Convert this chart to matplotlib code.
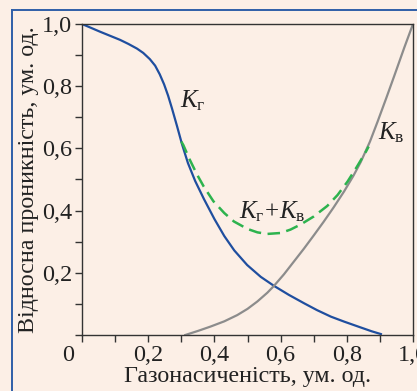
import matplotlib
matplotlib.use("Agg")
import matplotlib.pyplot as plt
from matplotlib.lines import Line2D
from matplotlib.transforms import ScaledTranslation
from matplotlib.ticker import MultipleLocator

plt.rcParams['font.family'] = ['Liberation Serif', 'DejaVu Serif']
plt.rcParams['mathtext.fontset'] = 'custom'
plt.rcParams['mathtext.rm'] = 'Liberation Serif'
plt.rcParams['mathtext.it'] = 'Liberation Serif:italic'

# Gas relative permeability K_г
kg_x = [0.0, 0.055, 0.115, 0.14, 0.166, 0.185, 0.205, 0.221, 0.235, 0.248, 0.26,
        0.272, 0.287, 0.302, 0.32, 0.342, 0.368, 0.40, 0.43, 0.46, 0.499, 0.54,
        0.58, 0.625, 0.671, 0.71, 0.752, 0.792, 0.84, 0.875, 0.903]
kg_y = [1.0, 0.975, 0.949, 0.936, 0.921, 0.907, 0.887, 0.866, 0.838, 0.806, 0.77,
        0.728, 0.672, 0.614, 0.553, 0.495, 0.438, 0.373, 0.318, 0.272, 0.225, 0.187,
        0.158, 0.129, 0.102, 0.08, 0.059, 0.043, 0.025, 0.012, 0.003]

# Water relative permeability K_в
kv_x = [0.312, 0.35, 0.388, 0.43, 0.469, 0.50, 0.53, 0.56, 0.58, 0.61, 0.64,
        0.67, 0.70, 0.73, 0.76, 0.792, 0.82, 0.842, 0.87, 0.893, 0.92, 0.943,
        0.974, 1.0]
kv_y = [0.0, 0.013, 0.027, 0.044, 0.064, 0.084, 0.108, 0.136, 0.158, 0.195, 0.236,
        0.277, 0.320, 0.364, 0.410, 0.462, 0.512, 0.556, 0.622, 0.686, 0.764, 0.832,
        0.925, 1.0]

# Sum K_г + K_в
ks_x = [0.300, 0.306, 0.325, 0.348, 0.368, 0.397, 0.43, 0.459, 0.50, 0.53, 0.56,
        0.60, 0.63, 0.66, 0.70, 0.741, 0.772, 0.802, 0.83, 0.858, 0.866]
ks_y = [0.622, 0.611, 0.565, 0.515, 0.477, 0.430, 0.392, 0.365, 0.341, 0.330, 0.325,
        0.328, 0.339, 0.355, 0.381, 0.415, 0.450, 0.493, 0.540, 0.590, 0.606]

xticks = [0.0, 0.2, 0.4, 0.6, 0.8, 1.0]
xticklabels = ['0', '0,2', '0,4', '0,6', '0,8', '1,0']
yticks = [0.2, 0.4, 0.6, 0.8, 1.0]
yticklabels = ['0,2', '0,4', '0,6', '0,8', '1,0']

bg = '#fcefe6'
fig = plt.figure(figsize=(4.17, 3.91), dpi=100, facecolor=bg)
ax = fig.add_axes([82/417, 1-335/391, 331/417, 311/391])
ax.set_facecolor(bg)

ax.plot(kg_x, kg_y, color='#1f4e9f', lw=1.6, solid_joinstyle='round')
ax.plot(kv_x, kv_y, color='#8c8c8c', lw=1.6, solid_joinstyle='round')
ax.plot(ks_x, ks_y, color='#2db34e', lw=1.8, dashes=(5, 2.6))

ax.set_xlim(0, 1.0)
ax.set_ylim(0, 1.0)
ax.set_xticks(xticks)
ax.set_xticklabels(xticklabels)
ax.set_yticks(yticks)
ax.set_yticklabels(yticklabels)
ax.xaxis.set_minor_locator(MultipleLocator(0.1))
ax.yaxis.set_minor_locator(MultipleLocator(0.1))
for axis in (ax.xaxis, ax.yaxis):
    axis.set_tick_params(which='both', direction='out', length=5, width=1, color='#333333',
                         labelsize=17.5, pad=2, labelcolor='#222222')
for s in ax.spines.values():
    s.set_color('#333333')
    s.set_linewidth(1.0)

# shift the "0" label to the left (shared origin)
lbl0 = ax.get_xticklabels()[0]
lbl0.set_transform(lbl0.get_transform() + ScaledTranslation(-0.14, 0, fig.dpi_scale_trans))

ax.set_xlabel('Газонасиченість, ум. од.', fontsize=17.3, color='#222222', labelpad=0)
ax.set_ylabel('Відносна проникність, ум. од.', fontsize=17.3, color='#222222', labelpad=2)

ax.text(0.335, 0.752, r'$K_{\mathrm{г}}$', fontsize=18, color='#222222', ha='center', va='center')
ax.text(0.933, 0.65, r'$K_{\mathrm{в}}$', fontsize=18, color='#222222', ha='center', va='center')
ax.text(0.576, 0.395, r'$K_{\mathrm{г}}\!+\!K_{\mathrm{в}}$', fontsize=18, color='#222222', ha='center', va='center')

# outer blue frame (top and left edges visible)
fig.add_artist(Line2D([12/417, 12/417], [0, 1-10/391], transform=fig.transFigure, color='#2f5fa8', lw=1.4))
fig.add_artist(Line2D([12/417, 1.0], [1-10/391, 1-10/391], transform=fig.transFigure, color='#2f5fa8', lw=1.4))

fig.savefig('out.png', dpi=100, facecolor=bg)
